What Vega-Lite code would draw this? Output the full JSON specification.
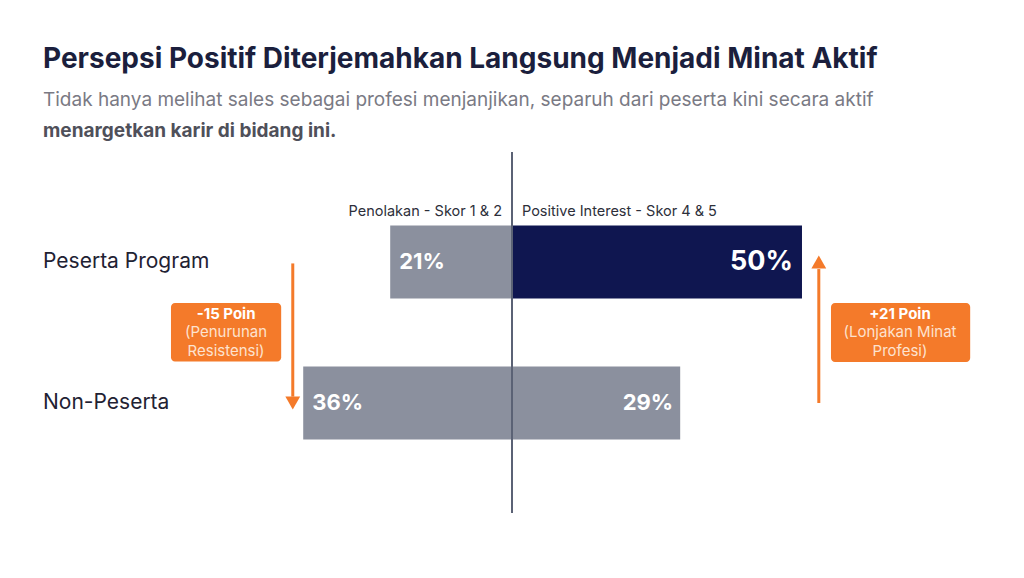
{
  "$schema": "https://vega.github.io/schema/vega-lite/v6.json",
  "width": 1024,
  "height": 361,
  "autosize": {"type": "none"},
  "padding": {"left": 0, "right": 0, "top": 152, "bottom": 65},
  "background": "#ffffff",
  "config": {"view": {"stroke": null}, "font": "Inter"},
  "title": {
    "text": "Persepsi Positif Diterjemahkan Langsung Menjadi Minat Aktif",
    "subtitle": "Tidak hanya melihat sales sebagai profesi menjanjikan, separuh dari peserta kini secara aktif",
    "anchor": "start",
    "frame": "group",
    "dx": 43,
    "offset": 12,
    "font": "Inter",
    "fontSize": 28,
    "fontWeight": 700,
    "color": "#1b1f3d",
    "subtitleFont": "Inter",
    "subtitleFontSize": 19,
    "subtitleColor": "#7a7a84",
    "subtitlePadding": 17
  },
  "datasets": {
    "bars": [
      {"group": "Peserta Program", "row": 0, "side": "Penolakan", "x": -21, "label": "21%", "tone": "base"},
      {"group": "Peserta Program", "row": 0, "side": "Positive Interest", "x": 50, "label": "50%", "tone": "highlight"},
      {"group": "Non-Peserta", "row": 1, "side": "Penolakan", "x": -36, "label": "36%", "tone": "base"},
      {"group": "Non-Peserta", "row": 1, "side": "Positive Interest", "x": 29, "label": "29%", "tone": "base"}
    ],
    "rowlabels": [
      {"x": -80.86, "row": 0, "text": "Peserta Program"},
      {"x": -80.86, "row": 1, "text": "Non-Peserta"}
    ],
    "headers": [
      {"x": -1.72, "row": -0.352, "text": "Penolakan - Skor 1 & 2", "side": "left"},
      {"x": 1.72, "row": -0.352, "text": "Positive Interest - Skor 4 & 5", "side": "right"}
    ],
    "subtitle2": [
      {"x": -80.86, "row": -0.931, "text": "menargetkan karir di bidang ini."}
    ],
    "arrows": [
      {"x": -37.8, "row": 0.01, "row2": 0.955},
      {"x": 52.9, "row": 1.0, "row2": 0.05}
    ],
    "heads": [
      {"x": -37.8, "row": 1.0, "dir": "down"},
      {"x": 52.9, "row": 0.0, "dir": "up"}
    ],
    "boxes": [
      {"x": -58.8, "x2": -39.8, "row": 0.29, "row2": 0.705},
      {"x": 55.0, "x2": 79.0, "row": 0.29, "row2": 0.71}
    ],
    "boxtext": [
      {"x": -49.3, "row": 0.372, "text": "-15 Poin", "kind": "head"},
      {"x": -49.3, "row": 0.497, "text": "(Penurunan", "kind": "body"},
      {"x": -49.3, "row": 0.628, "text": "Resistensi)", "kind": "body"},
      {"x": 66.9, "row": 0.372, "text": "+21 Poin", "kind": "head"},
      {"x": 66.9, "row": 0.497, "text": "(Lonjakan Minat", "kind": "body"},
      {"x": 66.9, "row": 0.628, "text": "Profesi)", "kind": "body"}
    ]
  },
  "encoding": {
    "x": {"type": "quantitative", "scale": {"domain": [-88.28, 88.28]}, "axis": null},
    "y": {"type": "quantitative", "scale": {"domain": [-0.745, 1.745], "reverse": true}, "axis": null}
  },
  "layer": [
    {
      "data": {"name": "bars"},
      "mark": {"type": "bar", "size": 73, "orient": "horizontal"},
      "encoding": {
        "x": {"field": "x", "type": "quantitative"},
        "x2": {"datum": 0},
        "y": {"field": "row", "type": "quantitative"},
        "color": {"field": "tone", "type": "nominal", "scale": {"domain": ["base", "highlight"], "range": ["#8b909e", "#0f1650"]}, "legend": null}
      }
    },
    {
      "data": {"name": "bars"},
      "mark": {"type": "rule", "color": "#5b6275", "strokeWidth": 2},
      "encoding": {"x": {"datum": 0}}
    },
    {
      "data": {"name": "bars"},
      "transform": [{"filter": "datum.side === 'Penolakan'"}],
      "mark": {"type": "text", "align": "left", "baseline": "middle", "dx": 9, "fontSize": 22, "fontWeight": 700, "color": "#ffffff", "font": "Inter"},
      "encoding": {
        "x": {"field": "x", "type": "quantitative"},
        "y": {"field": "row", "type": "quantitative"},
        "text": {"field": "label"}
      }
    },
    {
      "data": {"name": "bars"},
      "transform": [{"filter": "datum.side === 'Positive Interest' && datum.tone === 'base'"}],
      "mark": {"type": "text", "align": "right", "baseline": "middle", "dx": -7, "fontSize": 22, "fontWeight": 700, "color": "#ffffff", "font": "Inter"},
      "encoding": {
        "x": {"field": "x", "type": "quantitative"},
        "y": {"field": "row", "type": "quantitative"},
        "text": {"field": "label"}
      }
    },
    {
      "data": {"name": "bars"},
      "transform": [{"filter": "datum.tone === 'highlight'"}],
      "mark": {"type": "text", "align": "right", "baseline": "middle", "dx": -9, "fontSize": 27, "fontWeight": 700, "color": "#ffffff", "font": "Inter"},
      "encoding": {
        "x": {"field": "x", "type": "quantitative"},
        "y": {"field": "row", "type": "quantitative"},
        "text": {"field": "label"}
      }
    },
    {
      "data": {"name": "rowlabels"},
      "mark": {"type": "text", "align": "left", "baseline": "middle", "fontSize": 21, "color": "#1f2233", "font": "Inter"},
      "encoding": {
        "x": {"field": "x", "type": "quantitative"},
        "y": {"field": "row", "type": "quantitative"},
        "text": {"field": "text"}
      }
    },
    {
      "data": {"name": "headers"},
      "transform": [{"filter": "datum.side === 'left'"}],
      "mark": {"type": "text", "align": "right", "baseline": "middle", "fontSize": 14.5, "color": "#2d2f3a", "font": "Inter"},
      "encoding": {
        "x": {"field": "x", "type": "quantitative"},
        "y": {"field": "row", "type": "quantitative"},
        "text": {"field": "text"}
      }
    },
    {
      "data": {"name": "headers"},
      "transform": [{"filter": "datum.side === 'right'"}],
      "mark": {"type": "text", "align": "left", "baseline": "middle", "fontSize": 14.5, "color": "#2d2f3a", "font": "Inter"},
      "encoding": {
        "x": {"field": "x", "type": "quantitative"},
        "y": {"field": "row", "type": "quantitative"},
        "text": {"field": "text"}
      }
    },
    {
      "data": {"name": "subtitle2"},
      "mark": {"type": "text", "align": "left", "baseline": "middle", "fontSize": 19, "fontWeight": 700, "color": "#4f505a", "font": "Inter"},
      "encoding": {
        "x": {"field": "x", "type": "quantitative"},
        "y": {"field": "row", "type": "quantitative"},
        "text": {"field": "text"}
      }
    },
    {
      "data": {"name": "arrows"},
      "mark": {"type": "rule", "color": "#f47a2a", "strokeWidth": 3},
      "encoding": {
        "x": {"field": "x", "type": "quantitative"},
        "y": {"field": "row", "type": "quantitative"},
        "y2": {"field": "row2"}
      }
    },
    {
      "data": {"name": "heads"},
      "mark": {"type": "point", "filled": true, "size": 220, "color": "#f47a2a", "opacity": 1},
      "encoding": {
        "x": {"field": "x", "type": "quantitative"},
        "y": {"field": "row", "type": "quantitative"},
        "shape": {"field": "dir", "type": "nominal", "scale": {"domain": ["down", "up"], "range": ["triangle-down", "triangle-up"]}, "legend": null}
      }
    },
    {
      "data": {"name": "boxes"},
      "mark": {"type": "rect", "color": "#f47a2a", "cornerRadius": 4},
      "encoding": {
        "x": {"field": "x", "type": "quantitative"},
        "x2": {"field": "x2"},
        "y": {"field": "row", "type": "quantitative"},
        "y2": {"field": "row2"}
      }
    },
    {
      "data": {"name": "boxtext"},
      "transform": [{"filter": "datum.kind === 'head'"}],
      "mark": {"type": "text", "align": "center", "baseline": "middle", "fontSize": 15, "fontWeight": 700, "color": "#ffffff", "font": "Inter"},
      "encoding": {
        "x": {"field": "x", "type": "quantitative"},
        "y": {"field": "row", "type": "quantitative"},
        "text": {"field": "text"}
      }
    },
    {
      "data": {"name": "boxtext"},
      "transform": [{"filter": "datum.kind === 'body'"}],
      "mark": {"type": "text", "align": "center", "baseline": "middle", "fontSize": 15, "color": "#fde2cf", "font": "Inter"},
      "encoding": {
        "x": {"field": "x", "type": "quantitative"},
        "y": {"field": "row", "type": "quantitative"},
        "text": {"field": "text"}
      }
    }
  ]
}
